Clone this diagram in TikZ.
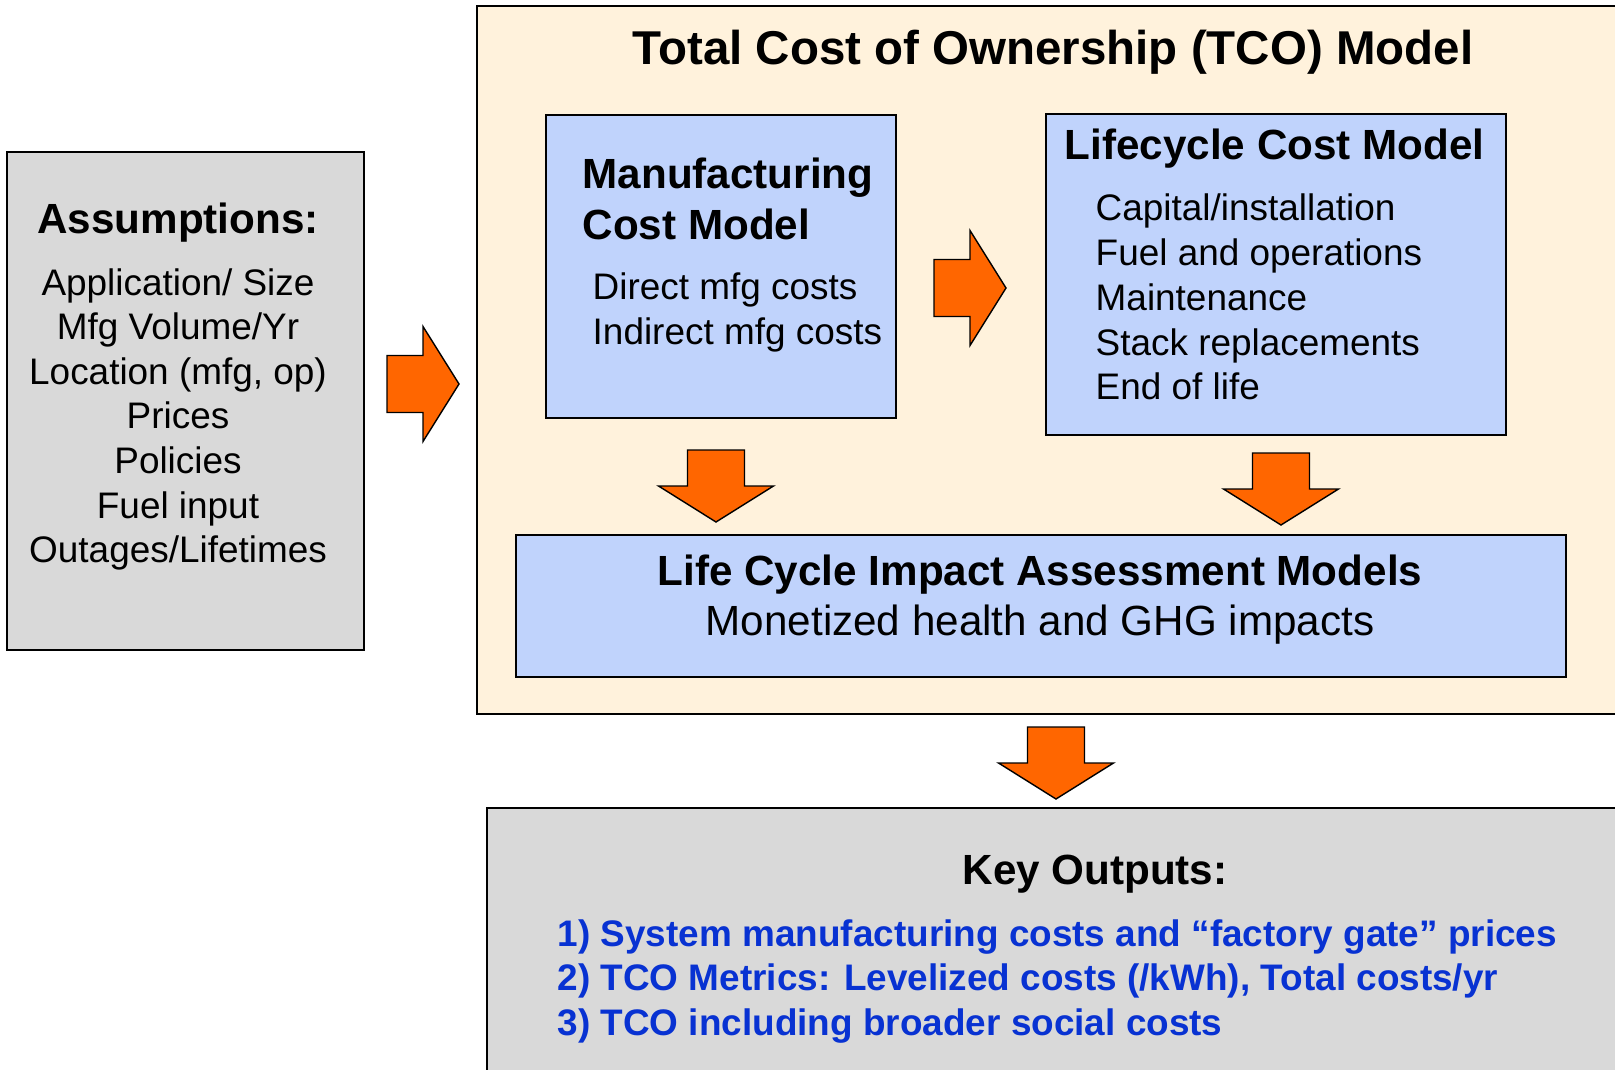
\documentclass[tikz,border=0pt]{standalone}
\usepackage{fontspec}
\setmainfont{Liberation Sans}

\definecolor{assumgray}{RGB}{217,217,217}
\definecolor{tcocream}{RGB}{255,242,220}
\definecolor{modelblue}{RGB}{192,211,252}
\definecolor{arroworange}{RGB}{255,102,0}
\definecolor{outblue}{RGB}{8,50,210}

\tikzset{
	boxline/.style={draw=black, line width=0.5pt},
	bigarrow/.style={fill=arroworange, draw=black, line width=0.4pt, line join=miter},
	headtext/.style={inner sep=0pt, font=\fontsize{12}{14.4}\selectfont\bfseries},
	itemtext/.style={inner sep=0pt, font=\fontsize{10.5}{12.7}\selectfont},
}

\begin{document}
\begin{tikzpicture}[x=0.01cm, y=-0.01cm]
	\useasboundingbox (0,0) rectangle (1615,1070);
	\clip (0,0) rectangle (1615,1070);
	
	%boxes
	\filldraw[boxline, fill=assumgray] (7,152) rectangle (364,650);
	\filldraw[boxline, fill=tcocream] (477,6) rectangle (1630,714);
	\filldraw[boxline, fill=modelblue] (546,115) rectangle (896,418);
	\filldraw[boxline, fill=modelblue] (1046,114) rectangle (1506,435);
	\filldraw[boxline, fill=modelblue] (516,535) rectangle (1566,677);
	\filldraw[boxline, fill=assumgray] (487,808) rectangle (1630,1090);
	
	%block arrows, tip at the shift point
	\foreach \x/\y/\r in {459/384/0, 1006/288/0, 716/522/-90, 1281/525/-90, 1056/799/-90}
		\filldraw[bigarrow, shift={(\x,\y)}, rotate=\r] (-72,-28.5) -- (-36,-28.5) -- (-36,-57.5) -- (0,0)
			-- (-36,57.5) -- (-36,28.5) -- (-72,28.5) -- cycle;
	
	%assumptions
	\node[headtext, anchor=base] (assume) at (178,233) {Assumptions:};
	\foreach \t [count=\i] in {{Application/ Size}, {Mfg Volume/Yr}, {Location (mfg, op)}, Prices, Policies, Fuel input, {Outages/Lifetimes}}
		\node[itemtext, anchor=base] (asm\i) at (178,{295+44.6*(\i-1)}) {\t};
	
	%tco model
	\node[headtext, font=\fontsize{13.5}{16}\selectfont\bfseries, anchor=base] (tcotitle) at (1053,65) {Total Cost of Ownership (TCO) Model};
	
	\node[headtext, anchor=base west] (mfgtitle) at (582,189) {Manufacturing};
	\node[headtext, anchor=base west] (mfgtitleb) at (582,240) {Cost Model};
	\node[itemtext, anchor=base west] (mfg1) at (592,299) {Direct mfg costs};
	\node[itemtext, anchor=base west] (mfg2) at (592,344) {Indirect mfg costs};
	
	\node[headtext, anchor=base west] (lcctitle) at (1064,160) {Lifecycle Cost Model};
	\foreach \t [count=\i] in {{Capital/installation}, Fuel and operations, Maintenance, Stack replacements, End of life}
		\node[itemtext, anchor=base west] (lcc\i) at (1095,{221+44.7*(\i-1)}) {\t};
	
	\node[headtext, anchor=base] (lciatitle) at (1040,585) {Life Cycle Impact Assessment Models};
	\node[itemtext, font=\fontsize{12}{14.4}\selectfont, anchor=base] (lciasub) at (1040,635) {Monetized health and GHG impacts};
	
	%outputs
	\node[headtext, anchor=base] (keyout) at (1095,884) {Key Outputs:};
	\foreach \t [count=\i] in {{1) System manufacturing costs and “factory gate” prices}, {2) TCO Metrics: Levelized costs (/kWh), Total costs/yr}, {3) TCO including broader social costs}}
		\node[itemtext, font=\fontsize{10.5}{12.7}\selectfont\bfseries, text=outblue, anchor=base west] (out\i) at (557,{946+44.5*(\i-1)}) {\t};
	
\end{tikzpicture}
\end{document}
